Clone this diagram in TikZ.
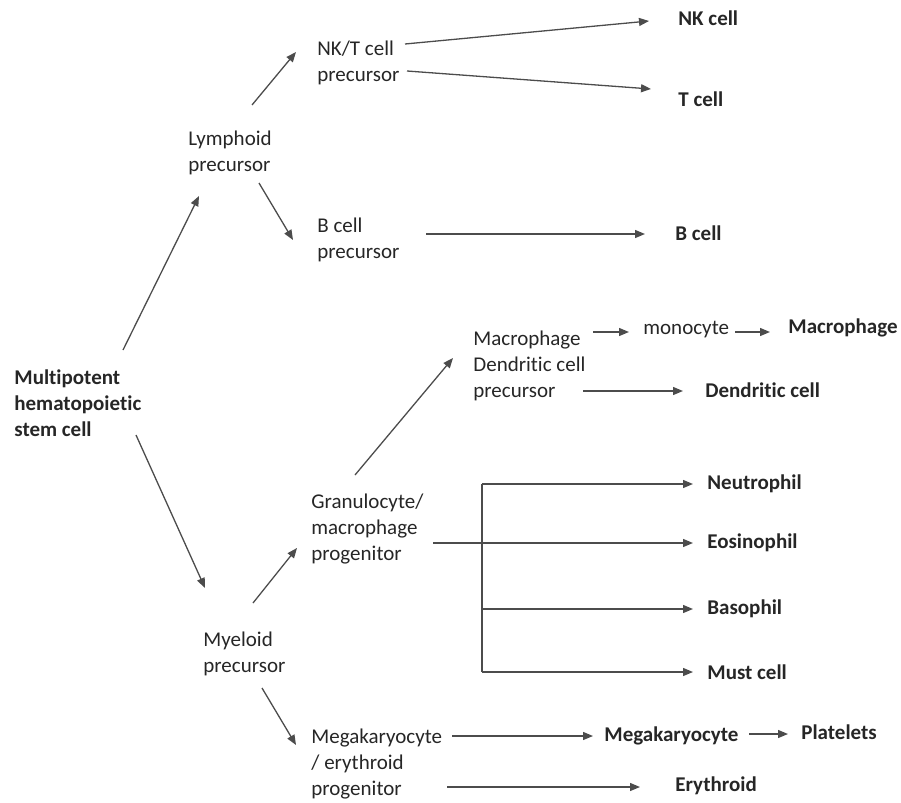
\documentclass[tikz,border=0pt]{standalone}
\usepackage{fontspec}
\setmainfont{Carlito}[Ligatures=NoCommon]
\usepackage{tikz}
\usetikzlibrary{ % tikz packages
    arrows.meta
}
\tikzset{every node/.style={
    inner sep=0pt,
    anchor=west,
    align=left,
    text=black!85,
    font=\fontsize{10.5}{13}\selectfont
}}
\tikzset{cell/.style={font=\fontsize{10.5}{13}\selectfont\bfseries}}
\tikzset{>={Triangle[length=5pt,width=4pt]}}
\tikzset{arr/.style={->,black!70,line width=0.65pt}}

\begin{document}
\begin{tikzpicture}[x=0.5pt,y=-0.5pt]
        \useasboundingbox (0,0) rectangle (901,803);

        \node[cell] (stem) at (14,403) {Multipotent\\hematopoietic\\stem cell};

        \node (lymph) at (188,153) {Lymphoid\\precursor};
        \node (nkt) at (317,63) {NK/T cell\\precursor};
        \node (bpre) at (317,240) {B cell\\precursor};
        \node[cell] (nk) at (678,18) {NK cell};
        \node[cell] (tc) at (678,99) {T cell};
        \node[cell] (bc) at (675,233) {B cell};

        \node (myel) at (203,654) {Myeloid\\precursor};
        \node (gmp) at (311,529) {Granulocyte/\\macrophage\\progenitor};
        \node (mdc) at (473,366) {Macrophage\\Dendritic cell\\precursor};
        \node (mono) at (643,330) {monocyte};
        \node[cell] (mac) at (788,328) {Macrophage};
        \node[cell] (dc) at (705,390) {Dendritic cell};
        \node[cell] (neu) at (707,484) {Neutrophil};
        \node[cell] (eos) at (707,543) {Eosinophil};
        \node[cell] (baso) at (707,609) {Basophil};
        \node[cell] (must) at (707,672) {Must cell};

        \node (mep) at (311,764) {Megakaryocyte\\/ erythroid\\progenitor};
        \node[cell] (mega) at (604,736) {Megakaryocyte};
        \node[cell] (plat) at (801,732) {Platelets};
        \node[cell] (ery) at (675,786) {Erythroid};

        \coordinate (bar) at (482,484);

        \path[arr]
            ([shift={(109,-53)}]stem.west)
                edge ([shift={(11,43)}]lymph.west)
            ([shift={(122,32)}]stem.west)
                edge ([shift={(2,-66)}]myel.west)
            ([shift={(64,-48)}]lymph.west)
                edge ([shift={(-21,-11)}]nkt.west)
            ([shift={(71,30)}]lymph.west)
                edge ([shift={(-24,0)}]bpre.west)
            ([shift={(88,-19)}]nkt.west)
                edge ([shift={(-29,3)}]nk.west)
            ([shift={(90,8)}]nkt.west)
                edge ([shift={(-27,-10)}]tc.west)
            ([shift={(109,-6)}]bpre.west)
                edge ([shift={(-30,1)}]bc.west)
            ([shift={(50,-51)}]myel.west)
                edge ([shift={(-14,19)}]gmp.west)
            ([shift={(59,34)}]myel.west)
                edge ([shift={(-15,-19)}]mep.west)
            ([shift={(44,-54)}]gmp.west)
                edge ([shift={(-20,-8)}]mdc.west)
            ([shift={(120,-34)}]mdc.west)
                edge ([shift={(-14,2)}]mono.west)
            ([shift={(92,2)}]mono.west)
                edge ([shift={(-18,4)}]mac.west)
            ([shift={(110,25)}]mdc.west)
                edge ([shift={(-22,1)}]dc.west)
            ([shift={(122,14)}]gmp.west)
                edge ([shift={(-14,0)}]eos.west)
            (bar)
                edge ([shift={(-14,0)}]neu.west)
            (bar |- baso.west)
                edge ([shift={(-14,0)}]baso.west)
            (bar |- must.west)
                edge ([shift={(-14,0)}]must.west)
            ([shift={(141,-28)}]mep.west)
                edge ([shift={(-11,0)}]mega.west)
            ([shift={(145,-2)}]mega.west)
                edge ([shift={(-13,2)}]plat.west)
            ([shift={(136,23)}]mep.west)
                edge ([shift={(-35,1)}]ery.west);
        \draw[arr,-] (bar) -- (bar |- must.west);
    \end{tikzpicture}
\end{document}
